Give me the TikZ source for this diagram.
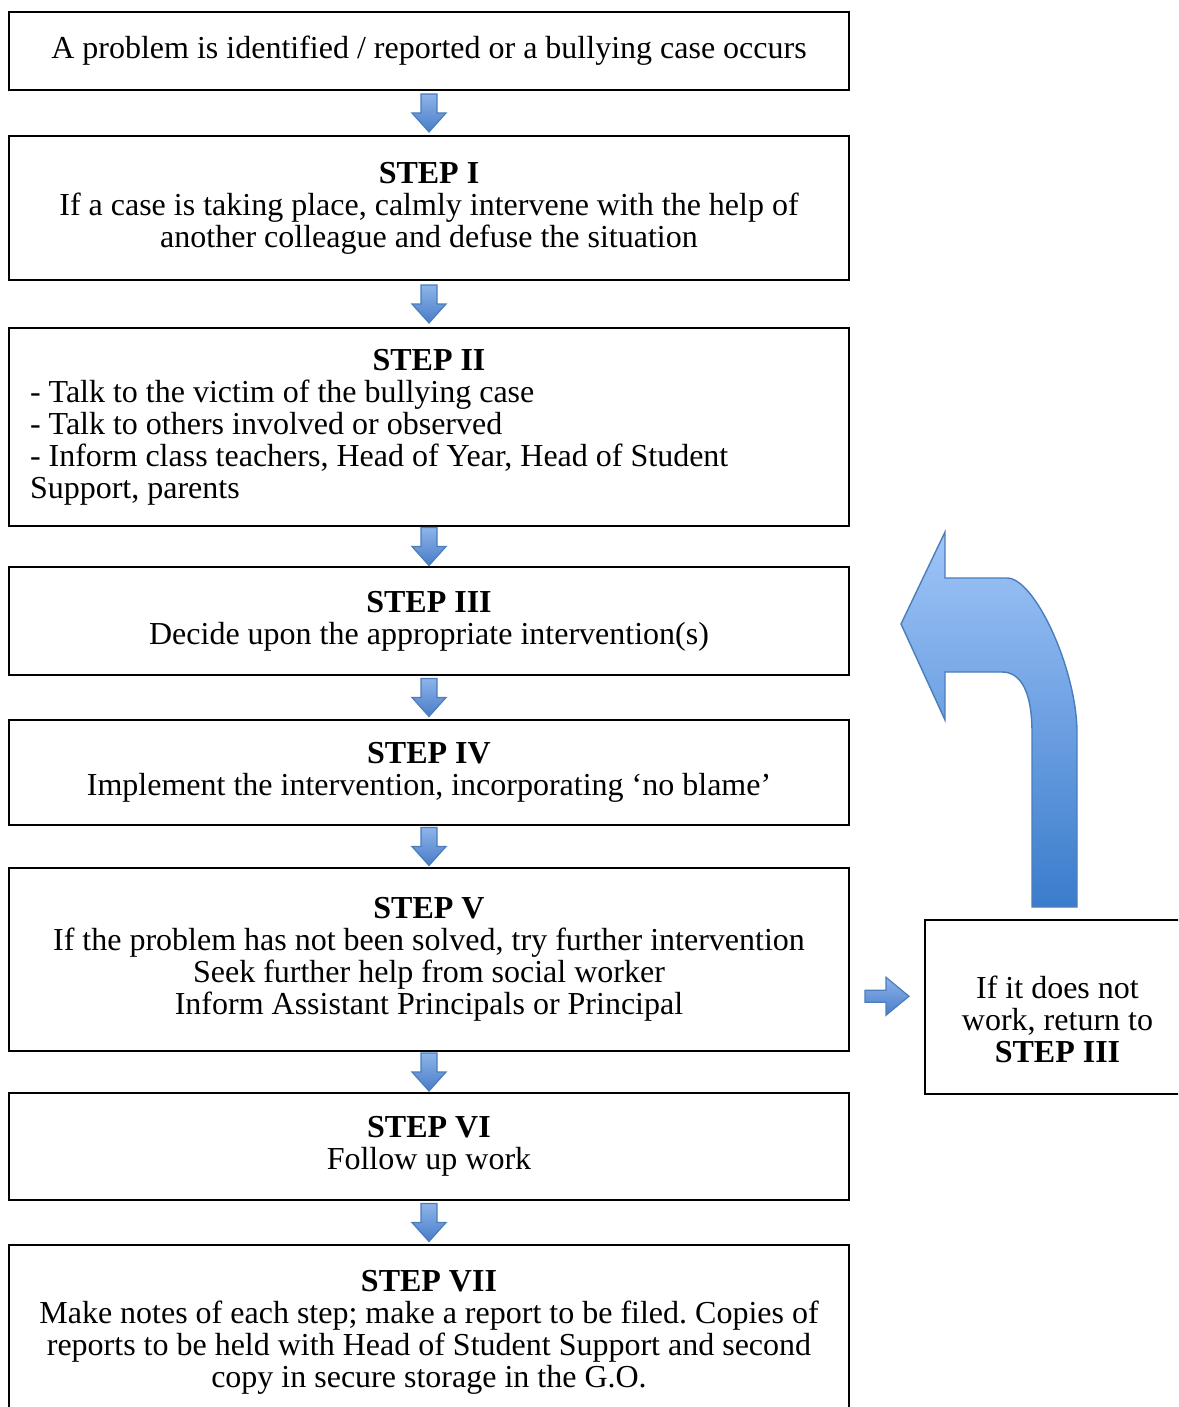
\documentclass[tikz,border=0pt]{standalone}
\usepackage{fontspec}
\setmainfont{Liberation Serif}
\usetikzlibrary{calc}
\frenchspacing

\definecolor{arrowtop}{RGB}{142,180,234}
\definecolor{arrowbot}{RGB}{72,124,200}
\definecolor{arrowline}{RGB}{74,126,187}
\definecolor{bigtop}{RGB}{160,197,248}
\definecolor{bigbot}{RGB}{58,124,204}

\tikzset{
  stepbox/.style={draw, line width=1pt, minimum width=420pt, align=center, inner sep=4pt},
  blockarrow/.style={draw=arrowline, line width=0.6pt, top color=arrowtop, bottom color=arrowbot},
  bigarrow/.style={draw=arrowline, line width=0.7pt, top color=bigtop, bottom color=bigbot},
}

% block arrow pointing down, half way between two boxes
\newcommand{\blockdown}[2]{%
  \path[blockarrow] ($(#1.south)!0.5!(#2.north)$) ++(-8,-19) -- ++(16,0) -- ++(0,19)
    -- ++(9,0) -- ++(-17,19) -- ++(-17,-19) -- ++(9,0) -- cycle;}
% block arrow pointing right, between a box and the side box
\newcommand{\blockright}[2]{%
  \path[blockarrow] ($(#1.east)!0.5!(#2.west)$) ++(-22,19) -- ++(0,-12) -- ++(21,0)
    -- ++(0,-13) -- ++(23,19) -- ++(-23,19) -- ++(0,-13) -- cycle;}

\begin{document}
\begin{tikzpicture}[x=0.5pt, y=-0.5pt, font=\fontsize{16pt}{16pt}\selectfont]
    \useasboundingbox (0,0) rectangle (1178,1407);
    \clip (0,0) rectangle (1178,1407);

    % The steps, one box under the other
    \node[stepbox, minimum height=39pt] (b0) at (429,51)
        {A problem is identified / reported or a bullying case occurs};
    \node[stepbox, minimum height=72pt] (b1) at (429,208)
        {\textbf{STEP I}\\ If a case is taking place, calmly intervene with the help of\\ another colleague and defuse the situation};
    \node[stepbox, minimum height=99pt, align=flush left, text width=399pt, inner xsep=10.5pt] (b2) at (429,427)
        {\makebox[\linewidth]{\textbf{STEP II}}\\ - Talk to the victim of the bullying case\\ - Talk to others involved or observed\\
         - Inform class teachers, Head of Year, Head of Student\\ Support, parents};
    \node[stepbox, minimum height=54pt] (b3) at (429,621)
        {\textbf{STEP III}\\ Decide upon the appropriate intervention(s)};
    \node[stepbox, minimum height=52.5pt] (b4) at (429,772.5)
        {\textbf{STEP IV}\\ Implement the intervention, incorporating ‘no blame’};
    \node[stepbox, minimum height=91.5pt] (b5) at (429,959.5)
        {\textbf{STEP V}\\ If the problem has not been solved, try further intervention\\
         Seek further help from social worker\\ Inform Assistant Principals or Principal};
    \node[stepbox, minimum height=53.5pt] (b6) at (429,1146.5)
        {\textbf{STEP VI}\\ Follow up work};
    \node[stepbox, minimum height=87.5pt] (b7) at (429,1332.5)
        {\textbf{STEP VII}\\ Make notes of each step; make a report to be filed. Copies of\\
         reports to be held with Head of Student Support and second\\ copy in secure storage in the G.O.};

    % The side box
    \node[stepbox, minimum width=132.5pt, minimum height=87pt] (ret) at (1057.5,1007)
        {\rule{0pt}{24pt}If it does not\\ work, return to\\ \textbf{STEP III}};

    % Arrows down the column
    \blockdown{b0}{b1}
    \blockdown{b1}{b2}
    \blockdown{b2}{b3}
    \blockdown{b3}{b4}
    \blockdown{b4}{b5}
    \blockdown{b5}{b6}
    \blockdown{b6}{b7}

    % Arrow across to the side box
    \blockright{b5}{ret}

    % Big bent arrow back up to step III
    \path[bigarrow] (1032,907) -- (1032,733) .. controls (1032,690) and (1020,672) .. (1002,672)
        -- (945,672) -- (945,720) -- (901,624) -- (945,532) -- (945,578) -- (1007,578)
        .. controls (1035,578) and (1077,670) .. (1077,733) -- (1077,907) -- cycle;
\end{tikzpicture}
\end{document}
